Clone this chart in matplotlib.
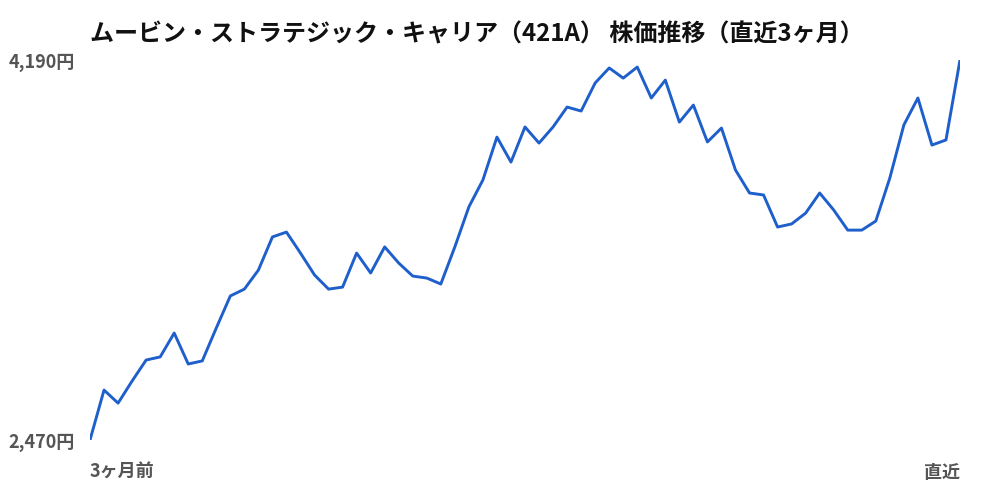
import matplotlib
matplotlib.use('Agg')
import matplotlib.pyplot as plt

plt.rcParams['font.family'] = ['Noto Sans CJK JP', 'DejaVu Sans']

# 株価（直近3ヶ月、日次の終値を目視で読み取り）
prices = [2470, 2696, 2637, 2737, 2832, 2846, 2954, 2814, 2828, 2977,
          3122, 3153, 3239, 3389, 3411, 3316, 3217, 3153, 3162, 3316,
          3226, 3344, 3271, 3212, 3203, 3176, 3344, 3525, 3647, 3841,
          3728, 3887, 3814, 3887, 3977, 3959, 4086, 4154, 4108, 4158,
          4018, 4099, 3909, 3986, 3819, 3882, 3692, 3588, 3579, 3434,
          3448, 3497, 3588, 3511, 3420, 3420, 3461, 3656, 3896, 4018,
          3805, 3828, 4190]
ymin = 2470
ymax = 4190
ylabels = ['2,470円', '4,190円']
xlabels = ['3ヶ月前', '直近']
title = 'ムービン・ストラテジック・キャリア（421A） 株価推移（直近3ヶ月）'

fig = plt.figure(figsize=(10, 5), dpi=100)
ax = fig.add_axes([0.09, 0.12, 0.87, 0.76])

x = list(range(len(prices)))
ax.plot(x, prices, color='#1f5fcc', linewidth=2.1)

ax.set_xlim(0, len(prices) - 1)
ax.set_ylim(ymin, ymax)
for s in ax.spines.values():
    s.set_visible(False)
ax.set_xticks([])
ax.set_yticks([])

# 軸ラベル
lab = dict(fontsize=13, fontweight='bold', color='#555555')
for v, t in zip([ymin, ymax], ylabels):
    ax.annotate(t, xy=(0, v), xycoords=('axes fraction', 'data'),
                xytext=(-11, -2), textcoords='offset points',
                ha='right', va='center', **lab)
ax.text(0, -0.085, xlabels[0], transform=ax.transAxes,
        ha='left', va='center', **lab)
ax.text(1, -0.085, xlabels[1], transform=ax.transAxes,
        ha='right', va='center', **lab)

fig.text(0.09, 0.93, title, ha='left', va='center', fontsize=17.3,
         fontweight='bold', color='#111111')

fig.savefig('out.png', dpi=100)
